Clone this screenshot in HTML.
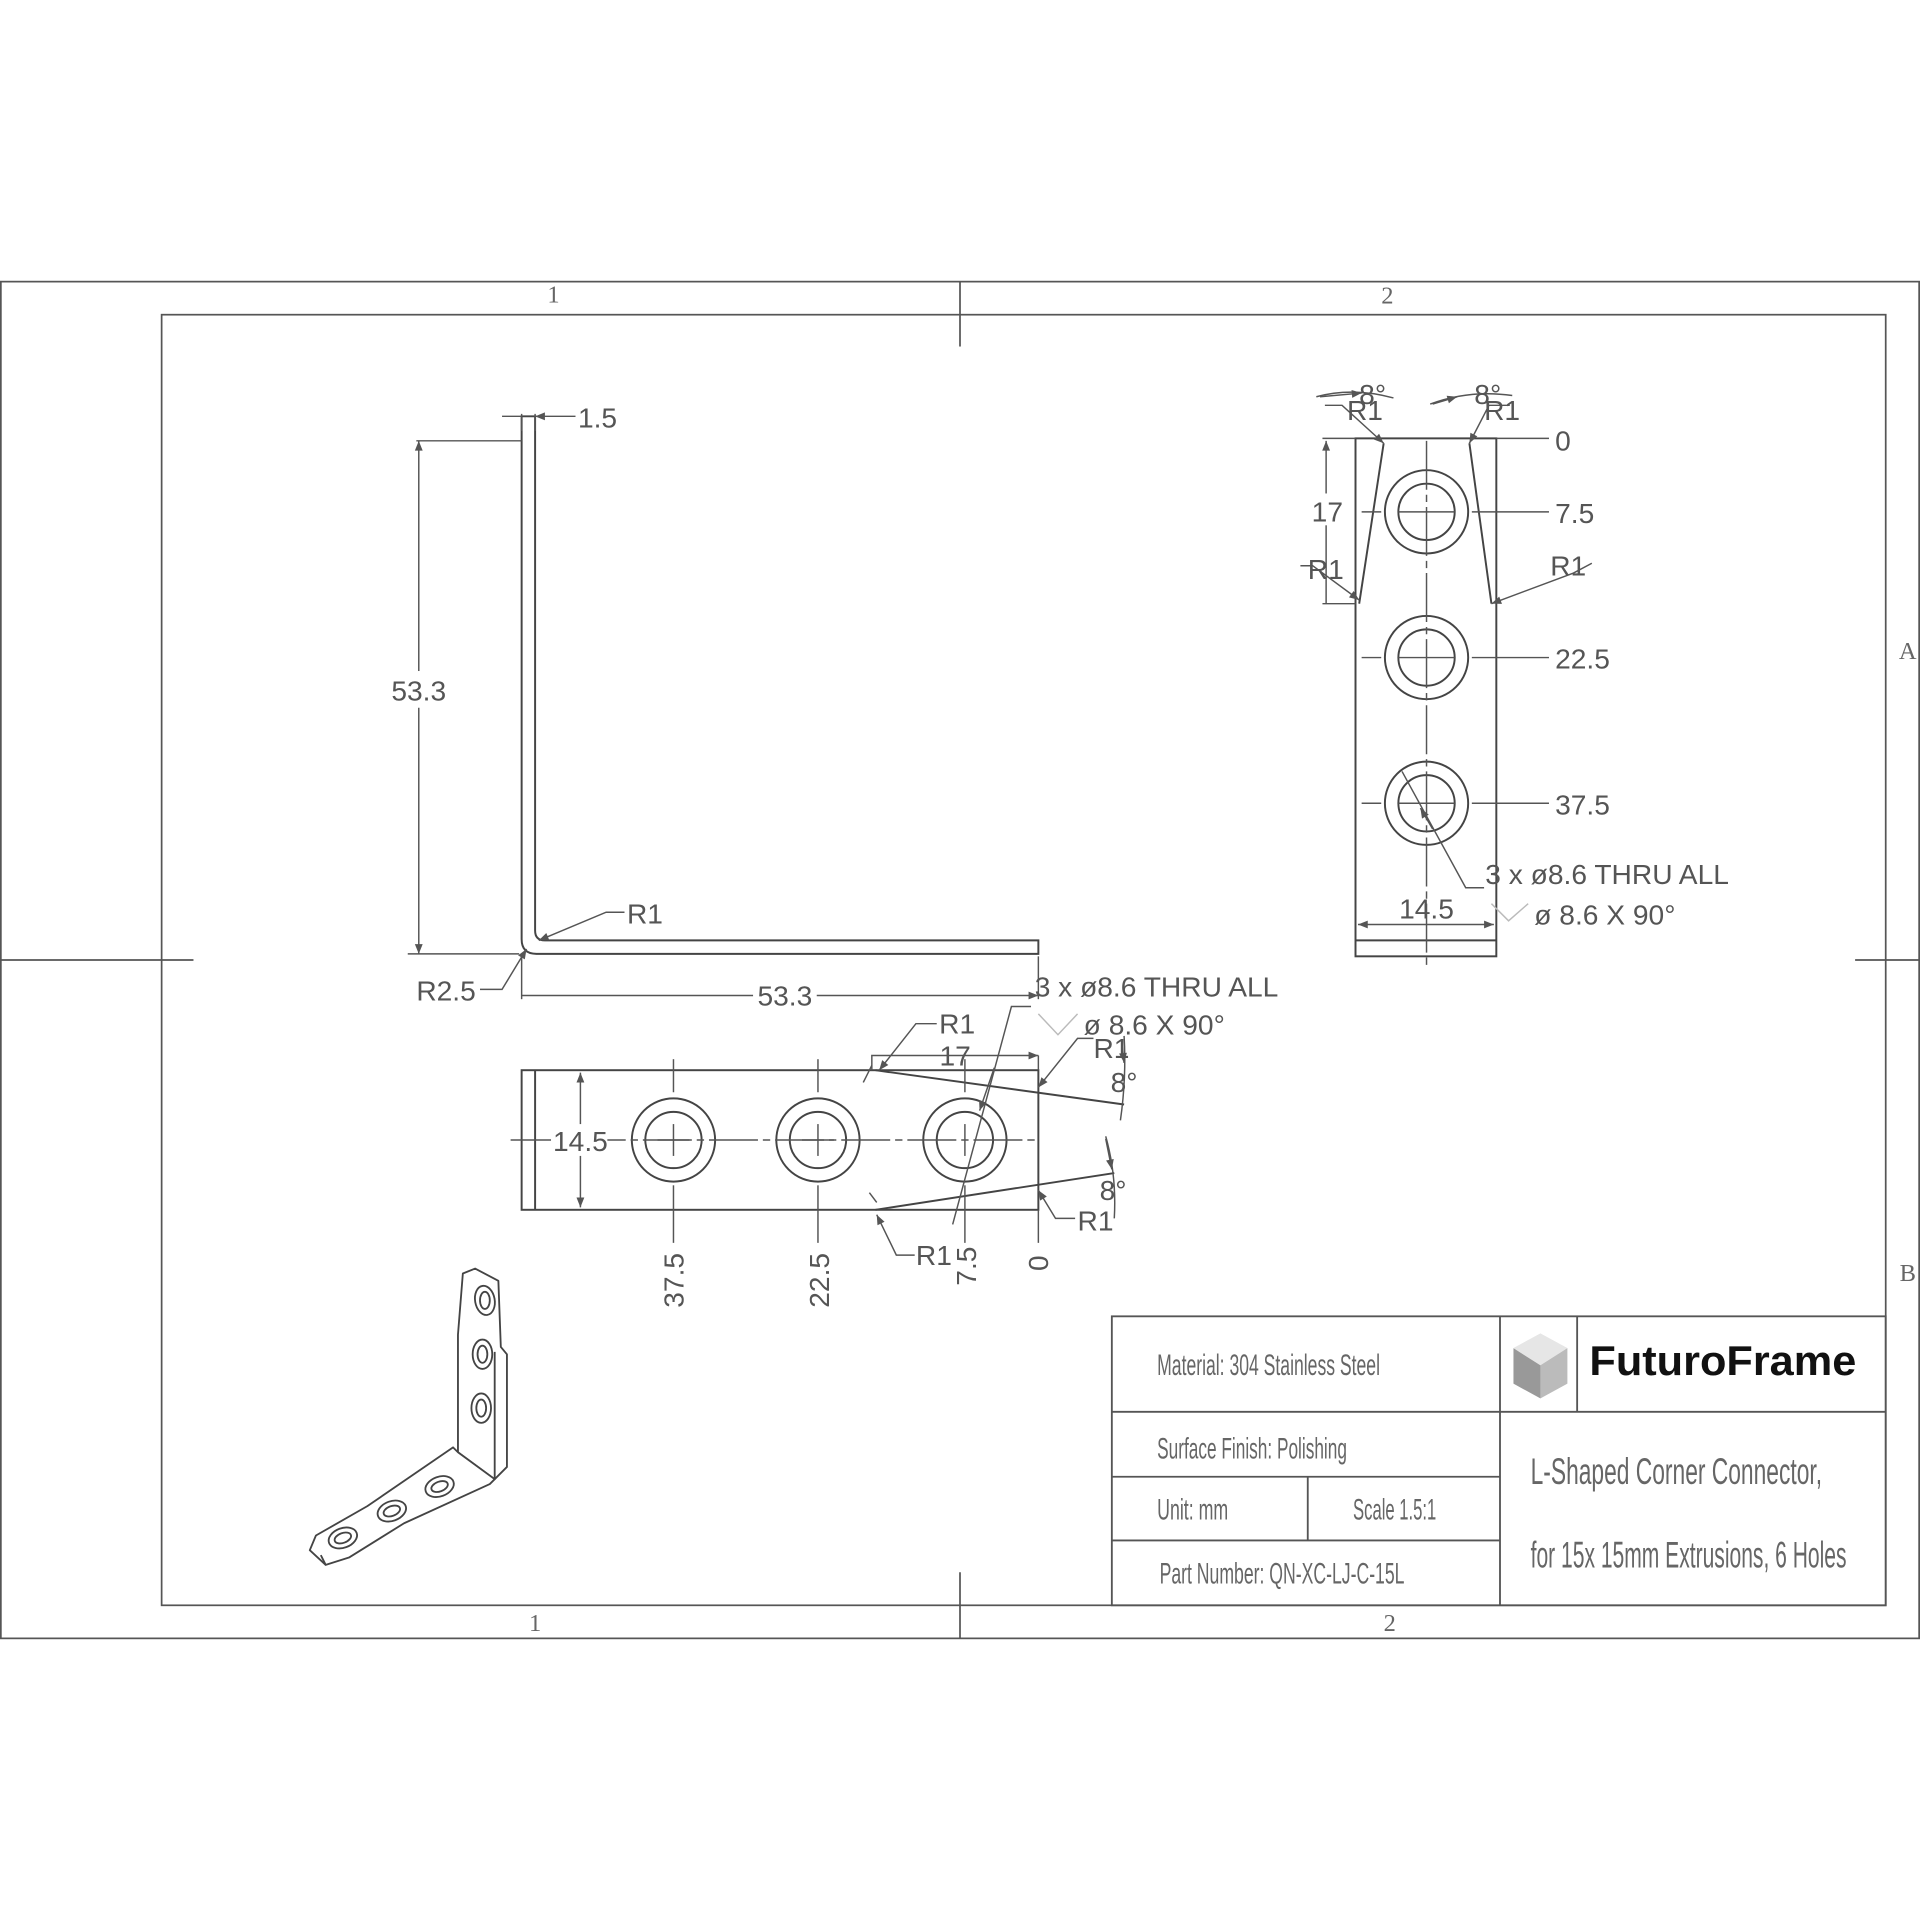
<!DOCTYPE html>
<html><head><meta charset="utf-8"><style>html,body{margin:0;padding:0;background:#fff}svg{display:block}</style></head>
<body>
<svg width="1920" height="1920" viewBox="0 0 1568 1568" xmlns="http://www.w3.org/2000/svg" font-family="Liberation Sans, sans-serif">
<defs>
<marker id="a" viewBox="0 0 10 10" refX="10" refY="5" markerWidth="14" markerHeight="8" markerUnits="userSpaceOnUse" orient="auto-start-reverse"><path d="M0,1L10,5L0,9z" fill="#555"/></marker>
</defs>
<rect width="1568" height="1568" fill="#fff"/>
<g stroke="#555" fill="none" stroke-width="1.4">
<rect x="0.7" y="230" width="1566.6" height="1108"/>
<rect x="132" y="257" width="1408" height="1054"/>
<line x1="784" y1="230" x2="784" y2="283"/><line x1="784" y1="1284" x2="784" y2="1338"/>
<line x1="0" y1="784" x2="158" y2="784"/><line x1="1515" y1="784" x2="1568" y2="784"/>
</g>
<g fill="#666" font-size="20" font-family="Liberation Serif, serif">
<text x="452" y="247" text-anchor="middle">1</text><text x="1133" y="248" text-anchor="middle">2</text>
<text x="1558" y="538" text-anchor="middle">A</text><text x="1558" y="1046" text-anchor="middle">B</text>
<text x="437" y="1332" text-anchor="middle">1</text><text x="1135" y="1332" text-anchor="middle">2</text>
</g>

<!-- side view L -->
<g stroke="#444" fill="none" stroke-width="1.6">
<path d="M426,340 V767 Q426,779 438,779 H848 V768 H445 Q437,768 437,760 V340 Z"/>
</g>
<g stroke="#555" fill="none" stroke-width="1.2">
<line x1="426" y1="338" x2="426" y2="352"/><line x1="437" y1="338" x2="437" y2="352"/>
<line x1="470" y1="340" x2="437" y2="340" marker-end="url(#a)"/><line x1="410" y1="340" x2="426" y2="340"/>
<line x1="340" y1="360" x2="426" y2="360"/><line x1="333" y1="779" x2="424" y2="779"/>
<line x1="342" y1="360" x2="342" y2="779" marker-start="url(#a)" marker-end="url(#a)"/>
<line x1="426" y1="781" x2="426" y2="816"/><line x1="848" y1="781" x2="848" y2="816"/>
<line x1="426" y1="813" x2="848" y2="813" marker-end="url(#a)"/>
<polyline points="510,745 495,745 440,768" marker-end="url(#a)"/>
<polyline points="392,808 410,808 430,775" marker-end="url(#a)"/>
</g>
<g fill="#555" font-size="23">
<rect x="318" y="548" width="48" height="30" fill="#fff"/>
<text x="342" y="572" text-anchor="middle">53.3</text>
<text x="472" y="349">1.5</text>
<text x="512" y="754">R1</text>
<text x="340" y="817">R2.5</text>
<rect x="615" y="800" width="52" height="26" fill="#fff"/>
<text x="641" y="821" text-anchor="middle">53.3</text>
</g>

<!-- front view bottom -->
<g stroke="#444" fill="none" stroke-width="1.6">
<rect x="426" y="874" width="422" height="114"/>
<line x1="437" y1="874" x2="437" y2="988"/>
<circle cx="550" cy="931" r="34"/><circle cx="550" cy="931" r="23"/>
<circle cx="668" cy="931" r="34"/><circle cx="668" cy="931" r="23"/>
<circle cx="788" cy="931" r="34"/><circle cx="788" cy="931" r="23"/>
<line x1="715" y1="874" x2="918" y2="902"/><line x1="715" y1="988" x2="910" y2="958"/>
</g>
<g stroke="#555" fill="none" stroke-width="1.2">
<line x1="417" y1="931" x2="848" y2="931" stroke-dasharray="40,4,6,4"/>
<line x1="550" y1="918" x2="550" y2="944"/><line x1="537" y1="931" x2="563" y2="931"/>
<line x1="668" y1="918" x2="668" y2="944"/><line x1="655" y1="931" x2="681" y2="931"/>
<line x1="788" y1="918" x2="788" y2="944"/>
<line x1="550" y1="865" x2="550" y2="892"/><line x1="668" y1="865" x2="668" y2="892"/><line x1="788" y1="865" x2="788" y2="892"/>
<line x1="550" y1="968" x2="550" y2="1015"/><line x1="668" y1="968" x2="668" y2="1015"/><line x1="788" y1="968" x2="788" y2="1015"/><line x1="848" y1="988" x2="848" y2="1015"/>
<line x1="474" y1="876" x2="474" y2="986" marker-start="url(#a)" marker-end="url(#a)"/>
<polyline points="712,874 712,862 848,862" marker-end="url(#a)"/><line x1="848" y1="862" x2="848" y2="874"/>
<polyline points="765,836 748,836 718,874" marker-end="url(#a)"/>
<polyline points="893,848 880,848 848,888" marker-end="url(#a)"/>
<polyline points="878,995 862,995 848,972" marker-end="url(#a)"/>
<polyline points="747,1025 732,1025 716,992" marker-end="url(#a)"/>
<path d="M918,846 Q920,880 915,915" /><line x1="916" y1="850" x2="918" y2="868" marker-end="url(#a)"/>
<path d="M903,928 Q912,960 910,995"/><line x1="903" y1="930" x2="908" y2="955" marker-end="url(#a)"/>
<polyline points="842,822 826,822 778,1000"/><line x1="812" y1="872" x2="800" y2="907" marker-end="url(#a)"/>
<line x1="712" y1="870" x2="705" y2="884"/><line x1="716" y1="982" x2="710" y2="974"/>
<path d="M848,828 L864,845 L880,828" stroke="#bbb"/>
</g>
<g fill="#555" font-size="23">
<rect x="450" y="918" width="46" height="26" fill="#fff"/>
<text x="474" y="940" text-anchor="middle">14.5</text>
<text x="780" y="870" text-anchor="middle">17</text>
<text x="767" y="844">R1</text><text x="893" y="864">R1</text><text x="880" y="1005">R1</text><text x="748" y="1033">R1</text>
<text x="907" y="892">8°</text><text x="898" y="980">8°</text>
<text x="845" y="814">3 x ø8.6 THRU ALL</text>
<text x="885" y="845">ø 8.6 X 90°</text>
<text transform="translate(558,1068) rotate(-90)">37.5</text>
<text transform="translate(677,1068) rotate(-90)">22.5</text>
<text transform="translate(797,1050) rotate(-90)">7.5</text>
<text transform="translate(856,1038) rotate(-90)">0</text>
</g>

<!-- right view -->
<g stroke="#444" fill="none" stroke-width="1.6">
<rect x="1107" y="358" width="115" height="423"/>
<line x1="1107" y1="768" x2="1222" y2="768"/>
<line x1="1130" y1="362" x2="1110" y2="493"/><line x1="1200" y1="362" x2="1218" y2="493"/>
<circle cx="1165" cy="418" r="34"/><circle cx="1165" cy="418" r="23"/>
<circle cx="1165" cy="537" r="34"/><circle cx="1165" cy="537" r="23"/>
<circle cx="1165" cy="656" r="34"/><circle cx="1165" cy="656" r="23"/>
</g>
<g stroke="#555" fill="none" stroke-width="1.2">
<line x1="1165" y1="360" x2="1165" y2="790" stroke-dasharray="40,4,6,4"/>
<line x1="1142" y1="418" x2="1188" y2="418"/><line x1="1142" y1="537" x2="1188" y2="537"/><line x1="1142" y1="656" x2="1188" y2="656"/>
<line x1="1112" y1="418" x2="1128" y2="418"/><line x1="1112" y1="537" x2="1128" y2="537"/><line x1="1112" y1="656" x2="1128" y2="656"/>
<line x1="1202" y1="418" x2="1265" y2="418"/><line x1="1202" y1="537" x2="1265" y2="537"/><line x1="1202" y1="656" x2="1265" y2="656"/>
<line x1="1222" y1="358" x2="1265" y2="358"/>
<line x1="1080" y1="358" x2="1107" y2="358"/><line x1="1080" y1="493" x2="1107" y2="493"/>
<line x1="1083" y1="493" x2="1083" y2="360" marker-end="url(#a)"/>
<line x1="1109" y1="755" x2="1220" y2="755" marker-start="url(#a)" marker-end="url(#a)"/>
<polyline points="1082,331 1096,331 1130,362" marker-end="url(#a)"/>
<polyline points="1233,331 1216,331 1200,362" marker-end="url(#a)"/>
<polyline points="1062,462 1072,462 1110,490" marker-end="url(#a)"/>
<polyline points="1300,460 1285,468 1218,493" marker-end="url(#a)"/>
<path d="M1075,324 Q1105,316 1138,325"/><line x1="1078" y1="324" x2="1112" y2="321" marker-end="url(#a)"/>
<path d="M1168,330 Q1200,318 1235,323"/><line x1="1170" y1="330" x2="1190" y2="324" marker-end="url(#a)"/>
<polyline points="1212,725 1197,725 1145,630"/><line x1="1170" y1="677" x2="1160" y2="660" marker-end="url(#a)"/>
<path d="M1218,738 L1232,752 L1248,738" stroke="#bbb"/>
</g>
<g fill="#555" font-size="23">
<text x="1270" y="368">0</text><text x="1270" y="427">7.5</text><text x="1270" y="546">22.5</text><text x="1270" y="665">37.5</text>
<rect x="1070" y="403" width="28" height="26" fill="#fff"/>
<text x="1084" y="426" text-anchor="middle">17</text>
<text x="1100" y="343">R1</text><text x="1212" y="343">R1</text>
<text x="1068" y="473">R1</text><text x="1266" y="470">R1</text>
<text x="1110" y="330">8°</text><text x="1204" y="330">8°</text>
<text x="1165" y="750" text-anchor="middle">14.5</text>
<text x="1213" y="722">3 x ø8.6 THRU ALL</text>
<text x="1253" y="755">ø 8.6 X 90°</text>
</g>

<!-- isometric -->
<g stroke="#444" fill="#fff" stroke-width="1.5" stroke-linejoin="round">
<path d="M378,1040 L388,1036 L407,1046 L409,1100 L414,1106 L414,1198 L404,1208 L374,1186 L374,1090 Z"/>
<path d="M374,1186 L404,1208 L400,1212 L330,1244 L285,1272 L266,1278 L253,1266 L258,1254 L300,1230 L370,1182 Z"/>
<line x1="404" y1="1208" x2="404" y2="1104"/>
<line x1="266" y1="1278" x2="262" y2="1270"/>
<ellipse cx="396" cy="1062" rx="8" ry="12" transform="rotate(-10 396 1062)"/><ellipse cx="396" cy="1062" rx="4" ry="7"/>
<ellipse cx="394" cy="1106" rx="8" ry="12"/><ellipse cx="394" cy="1106" rx="4" ry="7"/>
<ellipse cx="393" cy="1150" rx="8" ry="12"/><ellipse cx="393" cy="1150" rx="4" ry="7"/>
<ellipse cx="359" cy="1214" rx="12" ry="8" transform="rotate(-20 359 1214)"/><ellipse cx="359" cy="1214" rx="7" ry="4" transform="rotate(-20 359 1214)"/>
<ellipse cx="320" cy="1234" rx="12" ry="8" transform="rotate(-20 320 1234)"/><ellipse cx="320" cy="1234" rx="7" ry="4" transform="rotate(-20 320 1234)"/>
<ellipse cx="280" cy="1256" rx="12" ry="8" transform="rotate(-20 280 1256)"/><ellipse cx="280" cy="1256" rx="7" ry="4" transform="rotate(-20 280 1256)"/>
</g>

<!-- title block -->
<g stroke="#555" fill="none" stroke-width="1.5">
<rect x="908" y="1075" width="632" height="236"/>
<line x1="1225" y1="1075" x2="1225" y2="1311"/>
<line x1="908" y1="1153" x2="1540" y2="1153"/>
<line x1="908" y1="1206" x2="1225" y2="1206"/>
<line x1="908" y1="1258" x2="1225" y2="1258"/>
<line x1="1068" y1="1206" x2="1068" y2="1258"/>
<line x1="1288" y1="1075" x2="1288" y2="1153"/>
</g>
<g>
<polygon points="1258,1089 1280,1101 1280,1130 1258,1142 1236,1130 1236,1101" fill="#ddd"/>
<polygon points="1258,1115 1280,1101 1280,1130 1258,1142" fill="#bbb"/>
<polygon points="1236,1101 1258,1115 1258,1142 1236,1130" fill="#999"/>
<polygon points="1236,1101 1258,1089 1280,1101 1258,1115" fill="#e6e6e6"/>
</g>
<g fill="#666" font-size="24">
<text x="945" y="1123" textLength="182" lengthAdjust="spacingAndGlyphs">Material: 304 Stainless Steel</text>
<text x="945" y="1191" textLength="155" lengthAdjust="spacingAndGlyphs">Surface Finish:  Polishing</text>
<text x="945" y="1241" textLength="58" lengthAdjust="spacingAndGlyphs">Unit: mm</text>
<text x="1105" y="1241" textLength="68" lengthAdjust="spacingAndGlyphs">Scale  1.5:1</text>
<text x="947" y="1293" textLength="200" lengthAdjust="spacingAndGlyphs">Part Number: QN-XC-LJ-C-15L</text>
<text x="1250" y="1212" font-size="30" textLength="238" lengthAdjust="spacingAndGlyphs">L-Shaped Corner Connector,</text>
<text x="1250" y="1280" font-size="30" textLength="258" lengthAdjust="spacingAndGlyphs">for 15x 15mm Extrusions, 6 Holes</text>
</g>
<text x="1298" y="1123" font-size="34" font-weight="bold" fill="#111" textLength="218" lengthAdjust="spacingAndGlyphs">FuturoFrame</text>
</svg>
</body></html>
